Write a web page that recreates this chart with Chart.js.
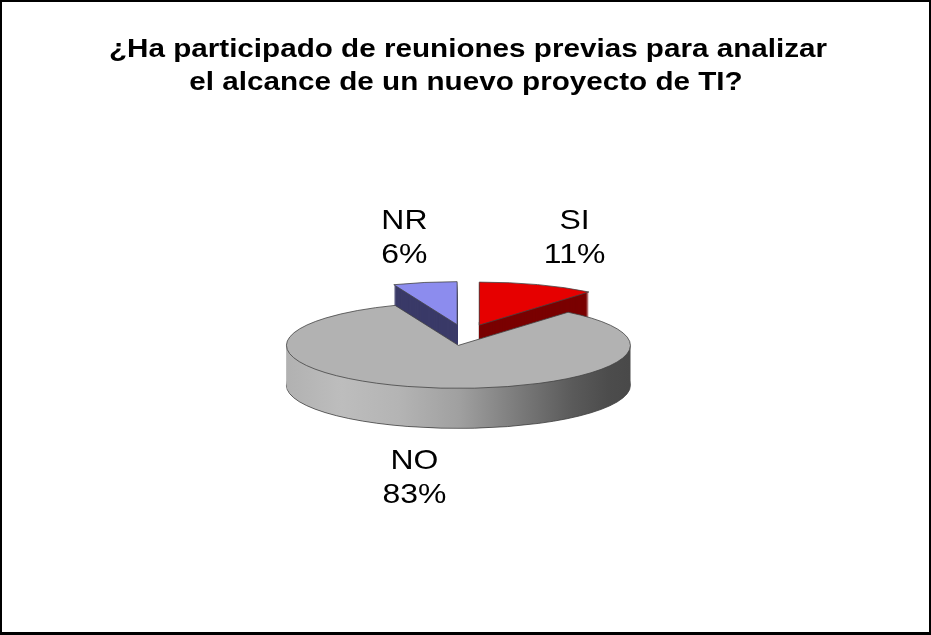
<!DOCTYPE html>
<html>
<head>
<meta charset="utf-8">
<script src="https://cdn.jsdelivr.net/npm/chart.js@4.4.1/dist/chart.umd.min.js"></script>
<style>
  html, body { margin: 0; padding: 0; background: #fff; }
  #frame {
    position: relative;
    width: 931px;
    height: 635px;
    box-sizing: border-box;
    border: 2px solid #000;
    border-bottom-width: 3px;
  }
  canvas { display: block; }
</style>
</head>
<body>
<div id="frame"><canvas id="chart" width="927" height="630"></canvas></div>
<script>
// Data
const categories = ["SI", "NO", "NR"];
const percentages = [11, 83, 6];
const titleLines = [
  "¿Ha participado de reuniones previas para analizar",
  "el alcance de un nuevo proyecto de TI?",
];

// Colours
const topColors = ["#e60000", "#b2b2b2", "#8c8cee"];
const sideColors = ["#7a0000", null, "#3a3a68"];

// 3D look (canvas px)
const pieCenter = { x: 463, y: 333 };
const radiusX = 172;
const radiusY = 43;
const depth = 40;
const explode = 42;
const textStretch = 1.14; // the original text is a bit wide

function noSideGradient(ctx) {
  const g = ctx.createLinearGradient(pieCenter.x - radiusX - 12, 0, pieCenter.x + radiusX, 0);
  g.addColorStop(0, "#b0b0b0");
  g.addColorStop(0.17, "#bdbdbd");
  g.addColorStop(0.33, "#b4b4b4");
  g.addColorStop(0.5, "#a0a0a0");
  g.addColorStop(0.67, "#7a7a7a");
  g.addColorStop(0.82, "#5a5a5a");
  g.addColorStop(0.92, "#4c4c4c");
  g.addColorStop(1, "#484848");
  return g;
}

function stretchedText(ctx, text, x, y) {
  ctx.save();
  ctx.translate(x, y);
  ctx.scale(textStretch, 1);
  ctx.fillText(text, 0, 0);
  ctx.restore();
}

// squash the pie into an ellipse, explode each slice and give it a side wall
const pie3d = {
  id: "pie3d",
  beforeDatasetsDraw(chart) {
    const ctx = chart.ctx;
    const arcs = chart.getDatasetMeta(0).data;
    const R = arcs[0].outerRadius;
    const sx = radiusX / R;
    const sy = radiusY / R;

    const place = (arc, dy) => {
      const mid = (arc.startAngle + arc.endAngle) / 2;
      ctx.translate(
        pieCenter.x + Math.cos(mid) * explode,
        pieCenter.y + Math.sin(mid) * explode * (radiusY / radiusX) + dy
      );
      ctx.scale(sx, sy);
      ctx.translate(-arc.x, -arc.y);
    };
    const slicePath = (arc, dy) => {
      ctx.save();
      place(arc, dy);
      ctx.beginPath();
      ctx.moveTo(arc.x, arc.y);
      ctx.arc(arc.x, arc.y, arc.outerRadius, arc.startAngle, arc.endAngle);
      ctx.closePath();
      ctx.restore();
    };

    // side walls, back slices first
    const order = [2, 0, 1];
    order.forEach((i) => {
      const arc = arcs[i];
      for (let d = depth; d >= 1; d--) {
        slicePath(arc, d);
        ctx.fillStyle = sideColors[i] || noSideGradient(ctx);
        ctx.fill();
        if (d === depth) {
          ctx.strokeStyle = "#3a3a3a";
          ctx.lineWidth = 0.8;
          ctx.stroke();
        }
      }
    });

    // top faces drawn by the arc elements themselves
    order.forEach((i) => {
      const arc = arcs[i];
      ctx.save();
      place(arc, 0);
      arc.draw(ctx);
      ctx.restore();
      slicePath(arc, 0);
      ctx.strokeStyle = "#444";
      ctx.lineWidth = 0.8;
      ctx.stroke();
    });
    return false;
  },
  afterDraw(chart) {
    const ctx = chart.ctx;
    const arcs = chart.getDatasetMeta(0).data;
    ctx.save();
    ctx.fillStyle = "#000";
    ctx.textAlign = "center";
    ctx.textBaseline = "alphabetic";

    // title
    ctx.font = "bold 26px 'Liberation Sans', Arial, sans-serif";
    stretchedText(ctx, titleLines[0], 466, 55);
    stretchedText(ctx, titleLines[1], 464, 88);

    // slice labels
    ctx.font = "28px 'Liberation Sans', Arial, sans-serif";
    arcs.forEach((arc, i) => {
      const mid = (arc.startAngle + arc.endAngle) / 2;
      const s = Math.sin(mid);
      const x = pieCenter.x + Math.cos(mid) * radiusX * 1.88;
      const y = pieCenter.y + Math.sign(s) * radiusY * 2.35 + (s > 0 ? depth - 2 : 0);
      stretchedText(ctx, categories[i], x, y - 5);
      stretchedText(ctx, percentages[i] + "%", x, y + 29);
    });
    ctx.restore();
  },
};

new Chart(document.getElementById("chart"), {
  type: "pie",
  data: {
    labels: categories,
    datasets: [
      {
        data: percentages,
        backgroundColor: topColors,
        borderWidth: 0,
      },
    ],
  },
  options: {
    responsive: false,
    animation: false,
    events: [],
    plugins: {
      legend: { display: false },
      tooltip: { enabled: false },
      title: { display: false },
    },
  },
  plugins: [pie3d],
});
</script>
</body>
</html>
